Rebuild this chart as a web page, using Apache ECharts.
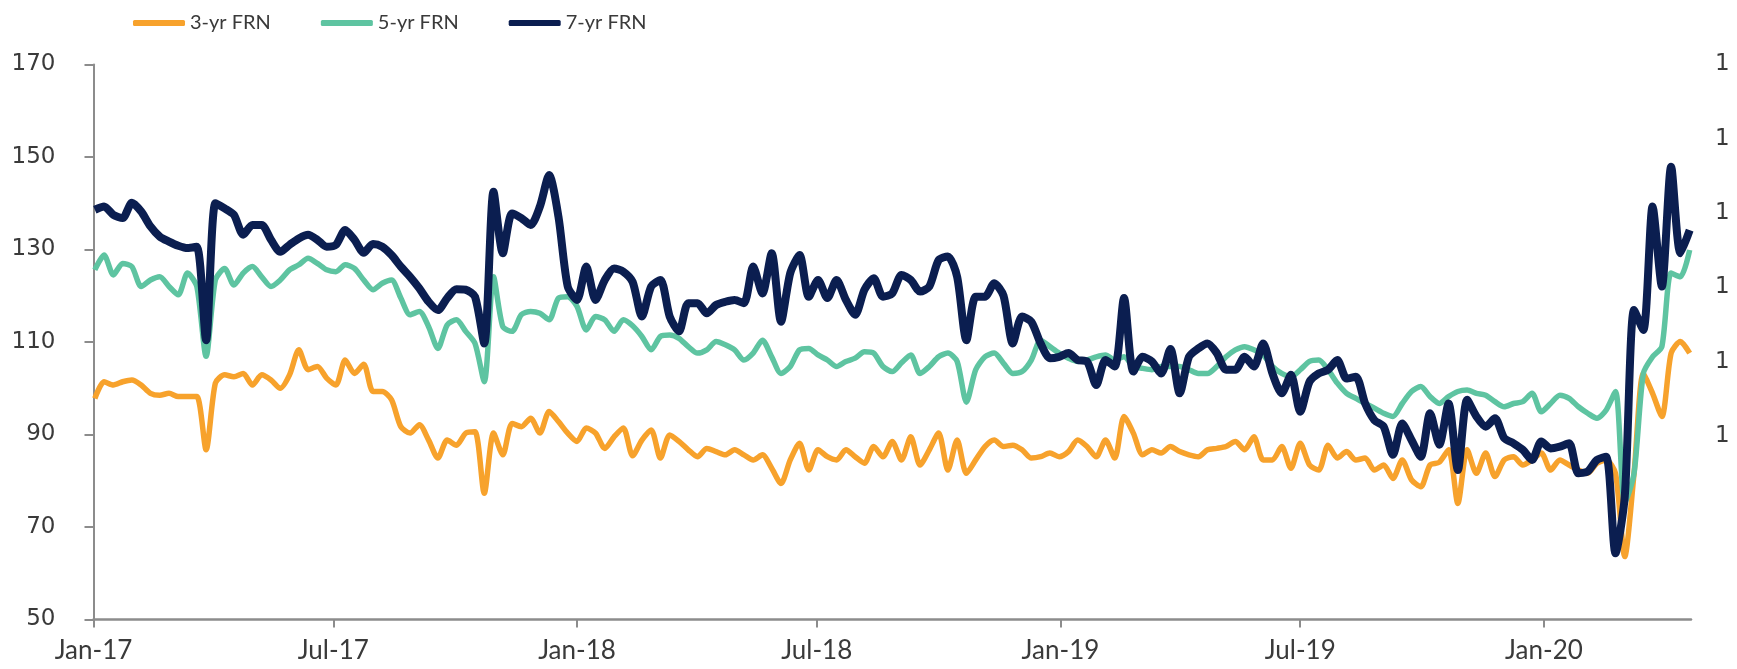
<!DOCTYPE html>
<html>
<head>
<meta charset="utf-8">
<script src="https://cdn.jsdelivr.net/npm/echarts@6.0.0/dist/echarts.min.js"></script>
<style>
  html, body { margin: 0; padding: 0; background: #ffffff; }
  #chart { width: 1737px; height: 669px; }
</style>
</head>
<body>
<div id="chart"></div>
<script>
const startDate = '2017-01-02';
const frn3 = [97.8,101.4,100.7,101.4,101.8,100.7,98.9,98.5,98.9,98.2,98.2,98.2,86.7,101.1,102.9,102.5,103.2,100.7,102.9,101.8,
  100.0,102.9,108.3,104.0,104.7,102.2,100.7,106.1,103.2,105.2,99.3,99.3,97.5,91.7,90.3,92.1,88.8,84.9,88.8,87.7,
  90.3,90.6,77.3,90.3,85.6,92.4,91.7,93.5,90.3,95.0,92.8,90.3,88.5,91.4,90.3,87.0,89.5,91.4,85.4,88.8,
  91.0,84.9,89.9,88.5,86.7,85.2,87.0,86.3,85.6,86.7,85.6,84.5,85.6,82.7,79.4,84.5,88.1,82.3,86.7,85.2,
  84.5,86.7,85.2,83.8,87.4,85.2,88.5,84.5,89.5,83.4,86.7,90.3,82.3,88.8,81.6,84.5,87.4,88.8,87.4,87.7,
  86.7,84.9,85.2,86.0,85.2,86.3,88.8,87.4,85.2,88.8,84.9,93.9,90.3,85.6,86.7,86.0,87.4,86.3,85.6,85.2,
  86.7,87.0,87.4,88.5,86.7,89.5,84.5,84.5,87.4,82.7,88.1,83.4,82.3,87.7,84.9,86.3,84.5,84.9,82.3,83.4,
  80.5,84.5,80.2,78.7,83.4,84.0,86.7,75.1,86.7,81.6,86.0,80.9,84.5,85.2,83.4,84.5,86.0,82.3,84.5,83.4,
  82.3,81.6,83.8,84.5,81.6,63.6,81.6,103.2,98.9,93.9,107.6,110.1,107.6];
const frn5 = [125.6,128.8,124.5,127.0,126.3,122.0,123.4,124.1,122.0,120.2,124.9,122.0,106.9,123.4,125.9,122.3,124.9,126.3,124.1,122.0,
  123.4,125.6,126.7,128.1,127.0,125.6,125.2,126.7,125.9,123.4,121.3,122.7,123.4,119.5,115.9,116.6,113.3,108.6,113.7,114.8,
  112.3,109.7,101.4,124.1,113.3,112.3,115.9,116.6,116.2,114.8,119.5,119.8,117.7,112.6,115.5,114.8,112.3,114.8,113.5,111.2,
  108.3,111.2,111.5,110.8,109.0,107.6,108.3,110.1,109.4,108.3,106.1,107.6,110.4,106.8,103.2,104.7,108.3,108.6,107.2,106.1,
  104.7,105.8,106.5,107.9,107.6,104.7,103.6,105.5,107.2,103.2,104.7,106.8,107.6,105.8,97.0,104.0,106.8,107.6,105.4,103.2,
  103.6,106.1,110.4,109.0,107.6,106.5,105.8,106.1,106.8,107.2,106.1,106.8,104.7,104.3,104.0,104.7,104.7,104.7,104.0,103.2,
  103.2,104.7,106.8,108.3,109.0,108.3,107.2,104.7,103.2,102.5,104.0,105.8,106.1,104.0,101.1,98.9,97.8,96.7,95.7,94.6,
  93.9,96.7,99.3,100.4,98.2,96.7,98.2,99.3,99.6,98.9,98.5,97.1,96.0,96.7,97.1,98.9,94.9,96.7,98.5,97.8,
  96.0,94.6,93.5,95.3,99.3,75.1,81.6,103.2,106.8,109.0,124.9,124.1,129.9];
const frn7 = [138.6,139.3,137.5,136.8,140.1,138.2,135.0,132.8,131.7,130.8,130.3,130.6,110.4,140.0,138.9,137.5,133.2,135.3,135.3,132.1,
  129.5,131.0,132.4,133.2,132.1,130.6,131.0,134.2,132.1,129.3,131.2,130.6,128.8,126.3,124.1,121.6,118.7,116.9,119.5,121.4,
  121.3,119.8,109.7,142.5,129.2,137.8,136.8,135.3,139.3,146.1,137.1,122.0,119.1,126.3,119.1,123.4,125.9,125.2,123.0,115.5,
  122.0,123.4,115.5,112.3,118.4,118.4,116.2,118.0,118.7,119.1,118.4,126.3,120.5,129.2,114.4,124.9,128.8,119.8,123.4,119.5,
  123.4,119.1,115.9,121.3,123.8,119.8,120.5,124.5,123.4,120.9,122.0,127.7,128.5,124.1,110.4,119.8,119.8,122.7,120.0,109.7,
  115.5,114.4,109.7,106.5,106.8,107.6,106.1,105.8,100.7,106.1,104.7,119.5,103.6,106.8,105.8,103.2,108.5,98.9,106.8,108.6,
  109.7,107.6,104.0,104.0,106.8,104.7,109.7,103.2,98.9,102.9,94.9,101.4,103.2,104.0,106.1,102.1,102.5,96.7,93.1,91.7,
  85.6,92.4,88.8,85.2,94.6,87.8,96.7,82.3,97.5,93.9,91.7,93.5,89.2,88.1,86.7,84.5,88.5,87.0,87.4,88.1,
  81.6,82.0,84.5,85.2,64.3,76.6,116.9,112.6,139.3,122.0,147.9,129.2,134.2];
const seriesNames = ['3-yr FRN', '5-yr FRN', '7-yr FRN'];
const tickDates = ['2017-01-01','2017-07-01','2018-01-01','2018-07-01','2019-01-01','2019-07-01','2020-01-01'];
const tickLabels = ['Jan-17','Jul-17','Jan-18','Jul-18','Jan-19','Jul-19','Jan-20'];
const axisStart = '2017-01-01';
const axisEnd = '2020-04-21';
const rightTickLabels = ['1','1','1','1','1','1'];

// ---- helpers: x position = days since axisStart ----
function dayNum(s) { const p = s.split('-').map(Number); return Math.round(Date.UTC(p[0], p[1] - 1, p[2]) / 86400000); }
const d0 = dayNum(axisStart);
const firstObs = dayNum(startDate) - d0;
const obsDays = frn3.map((_, i) => firstObs + i * 7);
const tickDays = tickDates.map(s => dayNum(s) - d0);
const labelMap = {};
tickDays.forEach((t, i) => { labelMap[t] = tickLabels[i]; });
const pair = arr => arr.map((v, i) => [obsDays[i], v]);

const chart = echarts.init(document.getElementById('chart'), null, { renderer: 'canvas' });
const axisGray = '#8c8c8c';
const textGray = '#3a3a3a';
chart.setOption({
  animation: false,
  backgroundColor: '#ffffff',
  color: ['#F7A22C', '#5EC4A1', '#0B1E50'],
  legend: {
    top: 8, left: 128,
    itemWidth: 52, itemHeight: 6, itemGap: 50,
    icon: 'roundRect',
    textStyle: { fontFamily: 'Lato', fontSize: 20, color: textGray },
    data: seriesNames
  },
  grid: { left: 93.5, right: 46, top: 64.5, bottom: 49.5, containLabel: false },
  xAxis: {
    type: 'value',
    min: 0,
    max: dayNum(axisEnd) - d0,
    splitLine: { show: false },
    axisLine: { show: true, onZero: false, lineStyle: { color: axisGray, width: 2.5 } },
    axisTick: { show: true, length: 8, lineStyle: { color: axisGray, width: 2 }, customValues: tickDays },
    axisLabel: {
      customValues: tickDays,
      margin: 18,
      fontFamily: 'Lato', fontSize: 26, color: textGray,
      formatter: v => labelMap[Math.round(v)] || ''
    }
  },
  yAxis: [{
    type: 'value', min: 50, max: 170, interval: 20,
    splitLine: { show: false },
    axisLine: { show: true, onZero: false, lineStyle: { color: axisGray, width: 2 } },
    axisTick: { show: true, length: 9, lineStyle: { color: axisGray, width: 2 } },
    axisLabel: { margin: 38, fontFamily: 'DejaVu Sans', fontSize: 23, color: textGray }
  }, {
    type: 'value', position: 'right', inverse: true,
    min: 0, max: 7.47, interval: 1,
    splitLine: { show: false },
    axisLine: { show: false, onZero: false },
    axisTick: { show: false },
    axisLabel: { margin: 24, fontFamily: 'DejaVu Sans', fontSize: 23, color: textGray,
      formatter: v => (Number.isInteger(v) && rightTickLabels[v]) ? rightTickLabels[v] : '' }
  }],
  series: [
    { name: seriesNames[0], type: 'line', data: pair(frn3), showSymbol: false, smooth: 0.25, lineStyle: { width: 5.5 } },
    { name: seriesNames[1], type: 'line', data: pair(frn5), showSymbol: false, smooth: 0.25, lineStyle: { width: 5.5 } },
    { name: seriesNames[2], type: 'line', data: pair(frn7), showSymbol: false, smooth: 0.25, lineStyle: { width: 8 } }
  ]
});
</script>
</body>
</html>
